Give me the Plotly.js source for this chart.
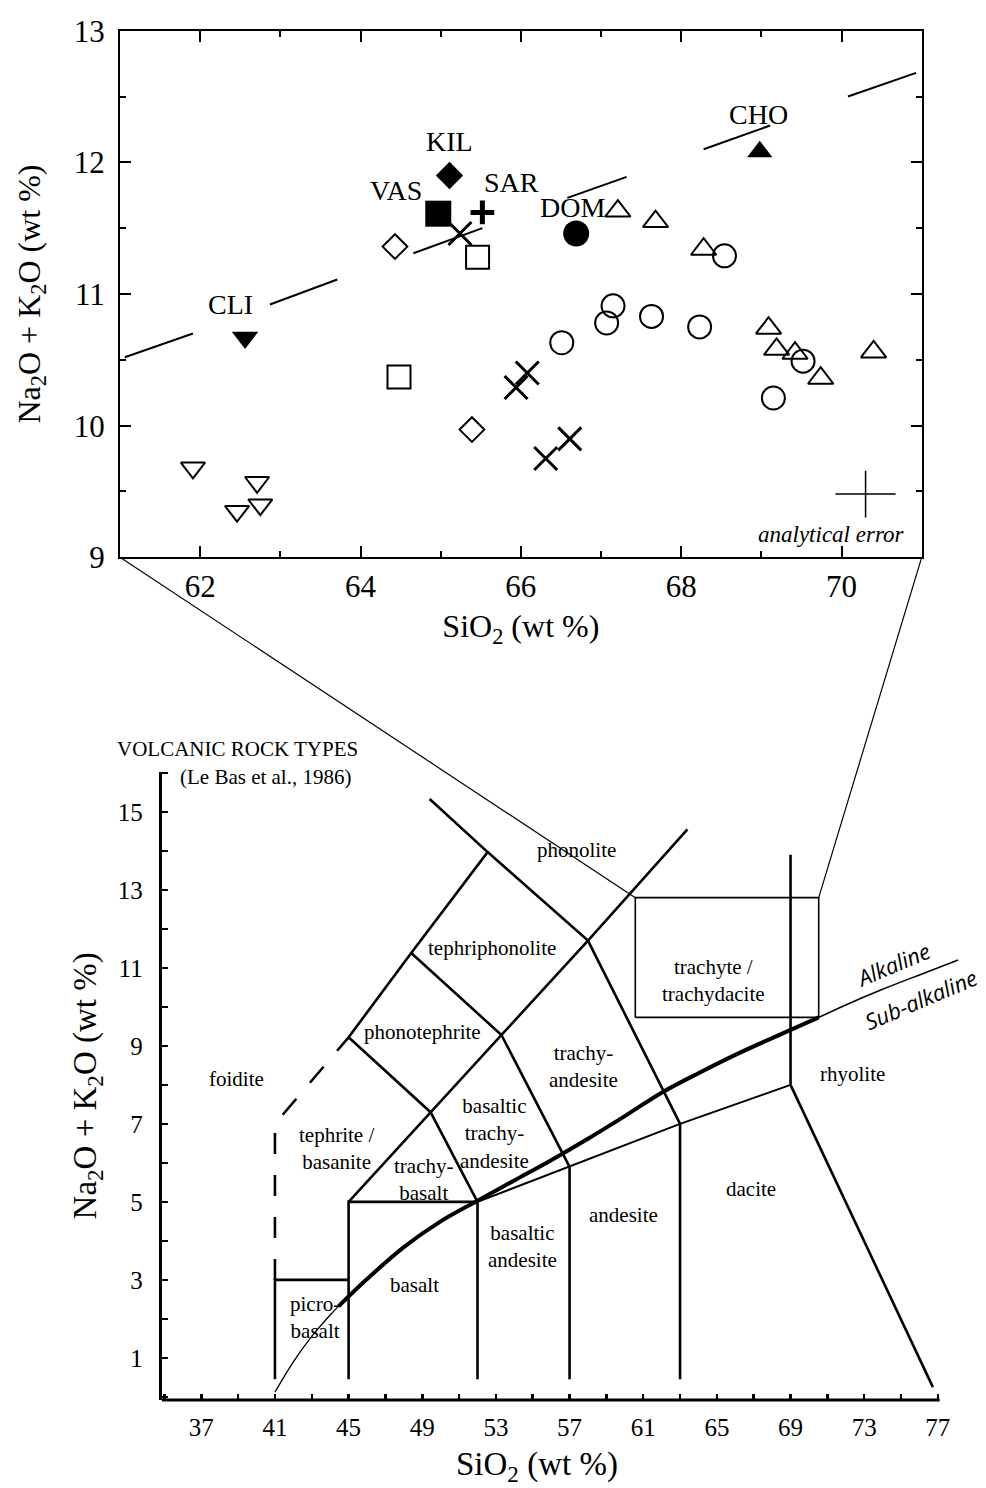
<!DOCTYPE html>
<html><head><meta charset="utf-8">
<script src="https://cdn.plot.ly/plotly-3.0.1.min.js"></script>
<style>html,body{margin:0;padding:0;background:#fff;}#chart{width:986px;height:1488px;}</style>
</head><body><div id="chart"></div>
<script>
// ---------------- Top chart data (SiO2 vs Na2O+K2O, wt %) ----------------
const openCircleX = [66.51, 67.07, 67.15, 67.63, 68.23, 68.54, 69.52, 69.15];
const openCircleY = [10.63, 10.78, 10.91, 10.83, 10.75, 11.29, 10.49, 10.21];
const openTriangleX = [67.21, 67.68, 68.28, 69.09, 69.19, 69.42, 70.40, 69.74];
const openTriangleY = [11.63, 11.55, 11.34, 10.74, 10.58, 10.55, 10.56, 10.36];
const crossX = [65.24, 66.08, 65.94, 66.61, 66.31];
const crossY = [11.46, 10.40, 10.29, 9.90, 9.75];
const openSquareX = [65.46, 64.48];
const openSquareY = [11.28, 10.37];
const openDiamondX = [64.43, 65.39];
const openDiamondY = [11.36, 9.97];
const openTriDownX = [61.91, 62.71, 62.46, 62.75];
const openTriDownY = [9.68, 9.57, 9.35, 9.40];

const siteNames = ['CLI', 'CHO', 'KIL', 'VAS', 'SAR', 'DOM'];
const siteX = [62.56, 68.98, 65.11, 64.97, 65.52, 66.69];
const siteY = [10.67, 12.08, 11.90, 11.61, 11.62, 11.46];
const siteLabelX = [62.38, 68.96, 65.11, 64.44, 65.88, 66.65];
const siteLabelY = [10.92, 12.36, 12.16, 11.79, 11.85, 11.66];

// alkaline / sub-alkaline divider (dashed segments) in the top chart
const divTopX = [61.06, 61.91, null, 62.87, 63.71, null, 64.66, 65.52, null, 66.58, 67.32, null, 68.28, 69.11, null, 70.08, 70.93];
const divTopY = [10.52, 10.70, null, 10.92, 11.11, null, 11.31, 11.50, null, 11.73, 11.89, null, 12.10, 12.28, null, 12.50, 12.68];

// analytical error cross
const errX = [70.3];
const errY = [9.48];
const errHalfX = [0.375];
const errHalfY = [0.177];

const topXTicks = [62, 64, 66, 68, 70];
const topYTicks = [9, 10, 11, 12, 13];

// ---------------- Bottom chart data (TAS, Le Bas et al. 1986) ----------------
const tasMainX = [41, 41, 45, null, 45, 45, 52, null, 52, 52, null, 57, 57, null, 63, 63, null,
  69, 69, null, 69, 76.73, null,
  45, 49.45, 53.3, 58.0, 63.4, null,
  52, 49.45, 45.0, null,
  45.0, 48.4, 52.55, 49.4, null,
  48.4, 53.3, 57, null,
  52.55, 58.0, 63];
const tasMainY = [0.45, 3, 3, null, 0.45, 5, 5, null, 0.45, 5, null, 0.45, 5.9, null, 0.45, 7, null,
  8, 13.9, null, 8, 0.25, null,
  5, 7.3, 9.28, 11.7, 14.55, null,
  5, 7.3, 9.22, null,
  9.22, 11.38, 13.97, 15.33, null,
  11.38, 9.28, 5.9, null,
  13.97, 11.7, 7.0];
const tasLowerX = [52, 57, 63, 69];
const tasLowerY = [5, 5.9, 7, 8];
const tasDashX = [41, 41, 45];
const tasDashY = [3, 7, 9.22];
const zoomBoxX = [60.57, 70.53, 70.53, 60.57, 60.57];
const zoomBoxY = [9.73, 9.73, 12.8, 12.8, 9.73];

const alkLowX = [41, 42, 43, 44, 44.45];
const alkLowY = [0.12, 0.9, 1.55, 2.1, 2.32];
const alkMainX = [44.45, 46, 48, 50, 52, 54, 56, 58, 60, 62, 64, 66, 68, 70.53];
const alkMainY = [2.32, 3.02, 3.84, 4.5, 5.03, 5.55, 6.07, 6.62, 7.2, 7.8, 8.3, 8.77, 9.2, 9.73];
const alkHighX = [70.53, 72, 74, 76, 78.1];
const alkHighY = [9.73, 10.05, 10.45, 10.82, 11.2];

const rockNames = ['phonolite', 'tephriphonolite', 'phonotephrite', 'foidite', 'trachy-<br>andesite',
  'basaltic<br>trachy-<br>andesite', 'tephrite /<br>basanite', 'trachy-<br>basalt', 'basaltic<br>andesite',
  'andesite', 'dacite', 'rhyolite', 'trachyte /<br>trachydacite', 'basalt', 'picro-<br>basalt'];
const rockX = [57.35, 52.8, 48.99, 38.9, 57.76, 52.95, 44.35, 49.05, 54.44, 59.94, 66.88, 72.37, 64.8, 48.59, 43.16];
const rockY = [14.02, 11.5, 9.36, 8.16, 8.48, 6.76, 6.37, 5.58, 3.85, 4.66, 5.34, 8.29, 10.68, 2.86, 2.03];

const seriesNames = ['Alkaline', 'Sub-alkaline'];
const seriesLabelX = [74.57, 76.06];
const seriesLabelY = [11.09, 10.21];

// ---------------- Layout geometry ----------------
const W = 986, H = 1488;
const SERIF = 'Liberation Serif, Times New Roman, serif';
const topXRange = [61, 71], topYRange = [9, 13];
const botXRange = [34.85, 78.35], botYRange = [-0.08, 16.03];
const topXDom = [120 / W, 921.7 / W], topYDom = [1 - 557.3 / H, 1 - 30.7 / H];
const botXDom = [161.7 / W, 962.7 / W], botYDom = [1 - 1400 / H, 1 - 771.7 / H];
function toPaper(dom, rng, v) { return dom[0] + (v - rng[0]) / (rng[1] - rng[0]) * (dom[1] - dom[0]); }

const K = '#000';
const traces = [];
function pts(x, y, symbol, size, lw, extra) {
  traces.push(Object.assign({
    type: 'scatter', mode: 'markers', x: x, y: y, xaxis: 'x', yaxis: 'y', cliponaxis: false,
    marker: {symbol: symbol, size: size, color: K, line: {color: K, width: lw}}
  }, extra || {}));
}
traces.push({type: 'scatter', mode: 'lines', x: divTopX, y: divTopY, xaxis: 'x', yaxis: 'y',
  line: {color: K, width: 2}, connectgaps: false});
pts(openCircleX, openCircleY, 'circle-open', 23, 2);
pts(openTriangleX, openTriangleY, 'triangle-up-open', 22, 2);
pts(crossX, crossY, 'x-thin-open', 23, 3);
pts(openSquareX, openSquareY, 'square-open', 23, 2);
pts(openDiamondX, openDiamondY, 'diamond-open', 19, 2);
pts(openTriDownX, openTriDownY, 'triangle-down-open', 21, 2);
const siteStyle = {
  CLI: ['triangle-down', 23, 0], CHO: ['triangle-up', 22, 0], KIL: ['diamond', 21, 0],
  VAS: ['square', 26, 0], SAR: ['cross-thin-open', 17, 5], DOM: ['circle', 26, 0]
};
siteNames.forEach((n, i) => {
  const s = siteStyle[n];
  pts([siteX[i]], [siteY[i]], s[0], s[1], s[2], {name: n});
});
traces.push({type: 'scatter', mode: 'markers', x: errX, y: errY, xaxis: 'x', yaxis: 'y',
  marker: {size: 1, opacity: 0},
  error_x: {type: 'data', array: errHalfX, width: 0, thickness: 1.5, color: K},
  error_y: {type: 'data', array: errHalfY, width: 0, thickness: 1.5, color: K}});

// bottom chart lines
function ln(x, y, w, dash, shape) {
  traces.push({type: 'scatter', mode: 'lines', x: x, y: y, xaxis: 'x2', yaxis: 'y2',
    line: {color: K, width: w, dash: dash || 'solid', shape: shape || 'linear', smoothing: 1}, connectgaps: false});
}
ln(tasMainX, tasMainY, 2.6);
ln(tasLowerX, tasLowerY, 2);
ln(tasDashX, tasDashY, 2.6, '21px,21px');
ln(zoomBoxX, zoomBoxY, 1.6);
ln(alkLowX, alkLowY, 1.3, null, 'spline');
ln(alkMainX, alkMainY, 4, null, 'spline');
ln(alkHighX, alkHighY, 1.6, null, 'spline');

// annotations
const ann = [];
siteNames.forEach((n, i) => ann.push({x: siteLabelX[i], y: siteLabelY[i], xref: 'x', yref: 'y', text: n,
  showarrow: false, font: {family: SERIF, size: 28, color: K}}));
ann.push({x: 69.87, y: 9.17, xref: 'x', yref: 'y', text: '<i>analytical error</i>', showarrow: false,
  font: {family: SERIF, size: 23, color: K}});
rockNames.forEach((n, i) => ann.push({x: rockX[i], y: rockY[i], xref: 'x2', yref: 'y2', text: n,
  showarrow: false, align: 'center', font: {family: SERIF, size: 21, color: K}}));
seriesNames.forEach((n, i) => ann.push({x: seriesLabelX[i], y: seriesLabelY[i], xref: 'x2', yref: 'y2',
  text: '<i>' + n + '</i>', textangle: -23, showarrow: false,
  font: {family: 'Open Sans, DejaVu Sans, sans-serif', size: 22, color: K}}));
ann.push({x: 237 / W, y: 1 - 749 / H, xref: 'paper', yref: 'paper', xanchor: 'center', yanchor: 'middle',
  text: 'VOLCANIC ROCK TYPES', showarrow: false, font: {family: SERIF, size: 21, color: K}});
ann.push({x: 265.8 / W, y: 1 - 776.7 / H, xref: 'paper', yref: 'paper', xanchor: 'center', yanchor: 'middle',
  text: '(Le Bas et al., 1986)', showarrow: false, font: {family: SERIF, size: 21, color: K}});
// x-axis title of the TAS diagram (centred under the drawn axis, not the padded domain)
ann.push({x: 537 / W, y: 1 - 1466 / H, xref: 'paper', yref: 'paper', xanchor: 'center', yanchor: 'middle',
  text: 'SiO<sub>2</sub> (wt %)', showarrow: false, font: {family: SERIF, size: 33, color: K}});

// connector lines from the zoomed panel to the box in the TAS diagram
const shapes = [
  {type: 'line', xref: 'paper', yref: 'paper',
   x0: toPaper(topXDom, topXRange, topXRange[0]), y0: toPaper(topYDom, topYRange, topYRange[0]),
   x1: toPaper(botXDom, botXRange, zoomBoxX[0]), y1: toPaper(botYDom, botYRange, zoomBoxY[2]),
   line: {color: K, width: 1.2}},
  {type: 'line', xref: 'paper', yref: 'paper',
   x0: toPaper(topXDom, topXRange, topXRange[1]), y0: toPaper(topYDom, topYRange, topYRange[0]),
   x1: toPaper(botXDom, botXRange, zoomBoxX[1]), y1: toPaper(botYDom, botYRange, zoomBoxY[2]),
   line: {color: K, width: 1.2}},
  // bottom x-axis baseline (ends at SiO2 = 77.1)
  {type: 'line', xref: 'x2', yref: 'y2 domain', x0: botXRange[0], x1: 77.1, y0: 0, y1: 0,
   line: {color: K, width: 3}}
];

const axCommon = {showgrid: false, zeroline: false, color: K, linecolor: K, tickcolor: K};
const layout = {
  width: W, height: H, margin: {l: 0, r: 0, t: 0, b: 0},
  paper_bgcolor: '#fff', plot_bgcolor: 'rgba(0,0,0,0)', showlegend: false, hovermode: false,
  font: {family: SERIF, color: K},
  xaxis: Object.assign({}, axCommon, {domain: topXDom, range: topXRange, anchor: 'y',
    showline: true, linewidth: 2, mirror: 'allticks', ticks: 'inside', ticklen: 11, tickwidth: 2,
    tickmode: 'array', tickvals: topXTicks, ticktext: topXTicks.map(String),
    minor: {dtick: 1, tick0: 61, ticks: 'inside', ticklen: 6, tickwidth: 2, tickcolor: K, showgrid: false},
    tickfont: {family: SERIF, size: 31, color: K}, ticklabelstandoff: 0,
    title: {text: 'SiO<sub>2</sub> (wt %)', font: {family: SERIF, size: 32, color: K}, standoff: 12}}),
  yaxis: Object.assign({}, axCommon, {domain: topYDom, range: topYRange, anchor: 'x',
    showline: true, linewidth: 2, mirror: 'allticks', ticks: 'inside', ticklen: 11, tickwidth: 2,
    tickmode: 'array', tickvals: topYTicks, ticktext: topYTicks.map(String),
    minor: {dtick: 0.5, tick0: 9, ticks: 'inside', ticklen: 6, tickwidth: 2, tickcolor: K, showgrid: false},
    tickfont: {family: SERIF, size: 31, color: K}, ticklabelstandoff: 7,
    title: {text: 'Na<sub>2</sub>O + K<sub>2</sub>O (wt %)', font: {family: SERIF, size: 32, color: K}, standoff: 24}}),
  xaxis2: Object.assign({}, axCommon, {domain: botXDom, range: botXRange, anchor: 'y2',
    showline: false, ticks: 'inside', ticklen: 6, tickwidth: 2.5, tick0: 37, dtick: 4,
    minor: {dtick: 2, tick0: 35, ticks: 'inside', ticklen: 6, tickwidth: 2.5, tickcolor: K, showgrid: false},
    tickfont: {family: SERIF, size: 25, color: K}, ticklabelstandoff: 10}),
  yaxis2: Object.assign({}, axCommon, {domain: botYDom, range: botYRange, anchor: 'x2',
    showline: true, linewidth: 3, ticks: 'inside', ticklen: 6, tickwidth: 2.5, tick0: 1, dtick: 2,
    minor: {dtick: 1, tick0: 0, ticks: 'inside', ticklen: 6, tickwidth: 2.5, tickcolor: K, showgrid: false},
    tickfont: {family: SERIF, size: 25, color: K}, ticklabelstandoff: 11,
    title: {text: 'Na<sub>2</sub>O + K<sub>2</sub>O (wt %)', font: {family: SERIF, size: 33, color: K}, standoff: 12}}),
  annotations: ann,
  shapes: shapes
};
Plotly.newPlot('chart', traces, layout, {staticPlot: true, displayModeBar: false});
</script></body></html>
